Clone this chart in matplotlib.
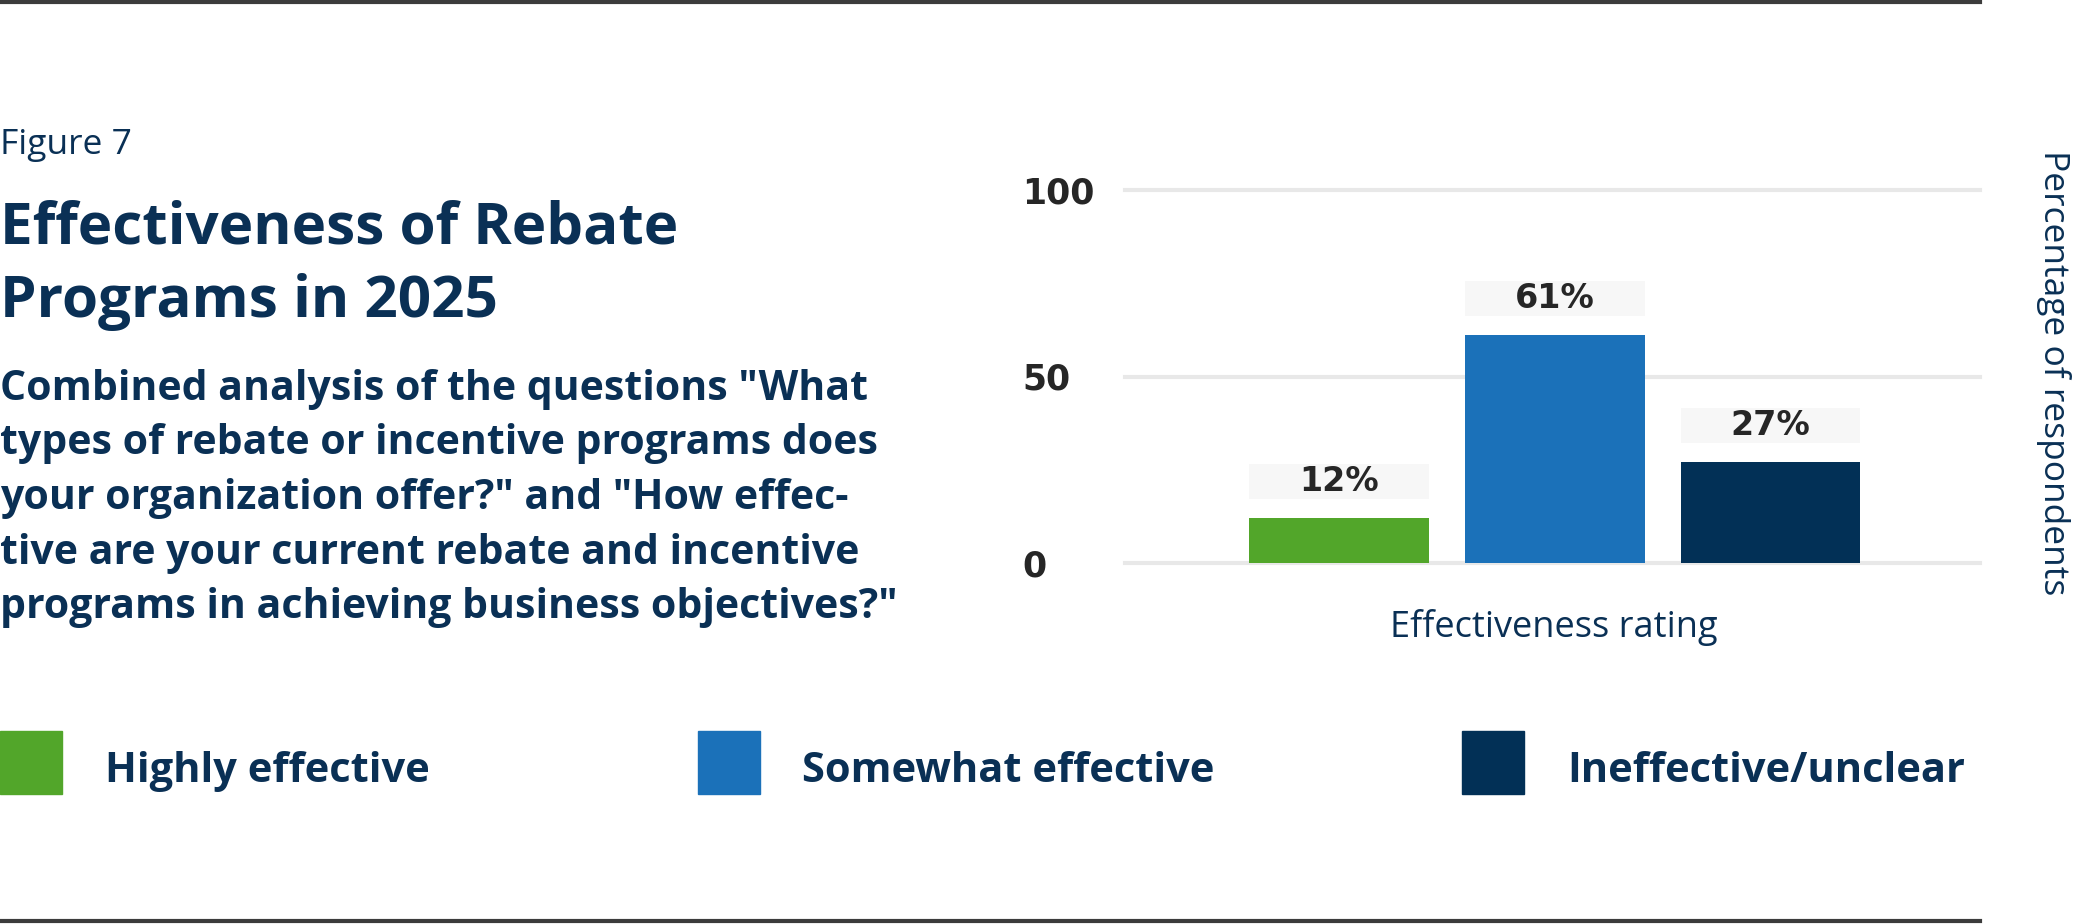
import matplotlib.pyplot as plt
from matplotlib.patches import Rectangle
from matplotlib.lines import Line2D

# data
categories = ['Highly effective', 'Somewhat effective', 'Ineffective/unclear']
values = [12, 61, 27]
value_labels = ['12%', '61%', '27%']
bar_colors = ['#52a62a', '#1b71b9', '#023056']
y_ticks = [0, 50, 100]
y_tick_labels = ['0', '50', '100']

W, H = 2081, 924
navy_text = '#0a3055'
dark = '#262626'
sans = ['Open Sans', 'DejaVu Sans']
num_font = ['DejaVu Sans']


def fx(px):
    return px / W


def fy(py):
    return 1 - py / H


fig = plt.figure(figsize=(W / 100, H / 100), dpi=100)

# top / bottom rules
fig.add_artist(Line2D([0, fx(1980)], [fy(2), fy(2)], color='#3c3c3c', lw=3))
fig.add_artist(Line2D([0, fx(1980)], [fy(921), fy(921)], color='#3c3c3c', lw=3))

# left text block
fig.text(0, fy(154), 'Figure 7', family=sans, fontsize=25.5, color=navy_text, va='baseline')
fig.text(0, fy(243), 'Effectiveness of Rebate', family=sans, fontsize=42, weight='bold',
         color=navy_text, va='baseline')
fig.text(0, fy(317), 'Programs in 2025', family=sans, fontsize=42, weight='bold',
         color=navy_text, va='baseline')
subtitle = ['Combined analysis of the questions "What',
            'types of rebate or incentive programs does',
            'your organization offer?" and "How effec-',
            'tive are your current rebate and incentive',
            'programs in achieving business objectives?"']
for i, line in enumerate(subtitle):
    fig.text(0, fy(400 + i * 54.5), line, family=sans, fontsize=29.5, weight='bold',
             color=navy_text, va='baseline')

# chart
ax = fig.add_axes([fx(1125), fy(563), fx(1980 - 1125), (563 - 190) / H])
for t in y_ticks:
    ax.axhline(t, color='#e8e8e8', lw=3, zorder=0, clip_on=False)
x = list(range(len(values)))
ax.bar(x, values, width=0.833, color=bar_colors, zorder=2)
# label boxes above bars
ax.bar(x, [9.4] * len(values), width=0.833, bottom=[v + 5.1 for v in values],
       color='#f7f7f7', zorder=1)
for xi, v, lab in zip(x, values, value_labels):
    ax.text(xi, v + 5.1 + 4.7, lab, ha='center', va='center', family=num_font,
            fontsize=24, weight='bold', color=dark, zorder=3)

ax.set_xlim(-0.99, 2.97)
ax.set_ylim(0, 100)
ax.set_xticks([])
ax.set_yticks(y_ticks)
ax.set_yticklabels(y_tick_labels, family=num_font, fontsize=25, weight='bold', color=dark, ha='left')
ax.tick_params(axis='y', length=0, pad=74)
for s in ax.spines.values():
    s.set_visible(False)
ax.patch.set_alpha(0)

fig.text(fx(1554), fy(637), 'Effectiveness rating', family=sans, fontsize=26,
         color=navy_text, ha='center', va='baseline')
fig.text(fx(2054), fy(373), 'Percentage of respondents', family=sans, fontsize=25.5,
         color=navy_text, ha='center', va='center', rotation=-90)

# legend
sq_x = [0, 698, 1462]
txt_x = [105, 802, 1567]
for sx, tx, c, lab in zip(sq_x, txt_x, bar_colors, categories):
    fig.add_artist(Rectangle((fx(sx), fy(794)), fx(62), (794 - 731) / H, color=c,
                             transform=fig.transFigure))
    fig.text(fx(tx), fy(782), lab, family=sans, fontsize=30, weight='bold',
             color=navy_text, va='baseline')

fig.savefig('out.png', dpi=100)
